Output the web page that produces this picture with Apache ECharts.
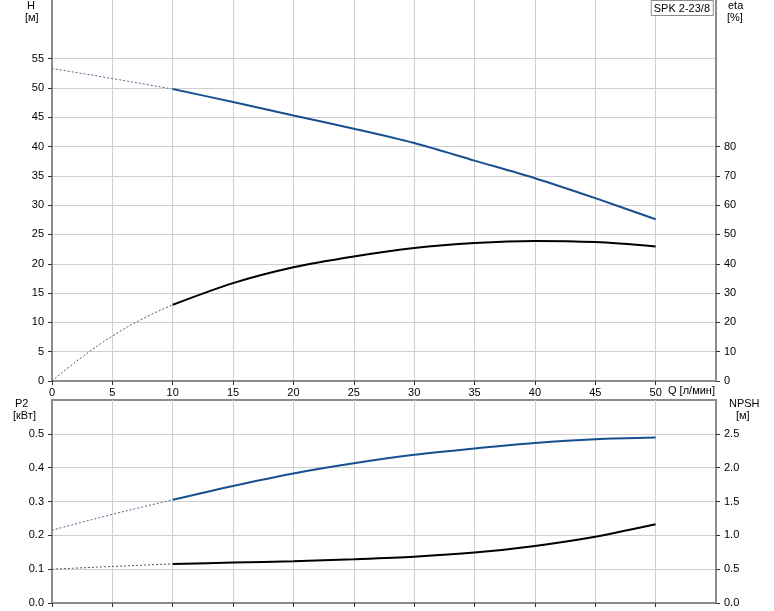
<!DOCTYPE html>
<html>
<head>
<meta charset="utf-8">
<script src="https://cdn.jsdelivr.net/npm/echarts@6/dist/echarts.min.js"></script>
<style>
html,body{margin:0;padding:0;background:#fff;}
#c{width:774px;height:611px;}
</style>
</head>
<body>
<div id="c"></div>
<script>
// ---- data ----
const qDash = [0, 5, 10];
const qMain = [10, 15, 20, 25, 30, 35, 40, 45, 50];
const qEtaDash = [0, 2.5, 5, 7.5, 10];
const hDash = [53.3, 51.6, 49.8];
const hMain = [49.8, 47.6, 45.3, 43.05, 40.6, 37.6, 34.6, 31.2, 27.6];
const etaDash = [0, 8.2, 15.3, 21.2, 26.0];
const etaMain = [26.0, 33.4, 38.8, 42.5, 45.4, 47.1, 47.8, 47.4, 45.9];
const p2Dash = [0.215, 0.262, 0.305];
const p2Main = [0.305, 0.346, 0.383, 0.413, 0.438, 0.457, 0.473, 0.484, 0.489];
const npshDash = [0.5, 0.54, 0.578];
const npshMain = [0.578, 0.597, 0.618, 0.647, 0.684, 0.745, 0.844, 0.98, 1.164];
const qTicks = [0, 5, 10, 15, 20, 25, 30, 35, 40, 45, 50];
const hTicks = [0, 5, 10, 15, 20, 25, 30, 35, 40, 45, 50, 55];
const etaTicks = [0, 10, 20, 30, 40, 50, 60, 70, 80];
const p2Ticks = [0, 0.1, 0.2, 0.3, 0.4, 0.5];
const npshTicks = [0, 0.5, 1.0, 1.5, 2.0, 2.5];

const pairs = (xs, ys) => xs.map((x, i) => [x, ys[i]]);

const FONT = '"Liberation Sans", Arial, sans-serif';
const AX = '#8c8c8c';
const GRID = '#cfcfcf';
const BLUE = '#17508f';
const lbl = {fontSize: 11, color: '#000', fontFamily: FONT};

function xAx(gi, showLabel) {
  return {
    type: 'value', gridIndex: gi, min: 0, max: 55, interval: 5,
    axisLine: {show: true, onZero: false, lineStyle: {color: AX, width: 2}},
    axisTick: {show: true, length: 4, customValues: qTicks, lineStyle: {color: '#333'}},
    axisLabel: Object.assign({show: showLabel, customValues: qTicks, margin: 6}, lbl),
    splitLine: {show: true, lineStyle: {color: GRID, width: 1}}
  };
}
function yAx(gi, pos, max, interval, ticks, grid, dec) {
  return {
    type: 'value', gridIndex: gi, position: pos, min: 0, max: max, interval: interval,
    axisLine: {show: true, onZero: false, lineStyle: {color: AX, width: 2}},
    axisTick: {show: true, length: 4, customValues: ticks, lineStyle: {color: '#333'}},
    axisLabel: Object.assign({customValues: ticks, margin: 8,
      formatter: v => dec ? v.toFixed(dec) : String(v)}, lbl),
    splitLine: {show: grid, lineStyle: {color: GRID, width: 1}}
  };
}
function dashed(name, xi, yi, data, color) {
  return {name, type: 'line', xAxisIndex: xi, yAxisIndex: yi, data, smooth: 0.5,
    symbol: 'none', lineStyle: {color, width: 1, type: [2, 2]}, z: 3};
}
function solid(name, xi, yi, data, color) {
  return {name, type: 'line', xAxisIndex: xi, yAxisIndex: yi, data, smooth: 0.3,
    symbol: 'none', lineStyle: {color, width: 2}, z: 4};
}

const chart = echarts.init(document.getElementById('c'), null, {renderer: 'canvas'});
chart.setOption({
  animation: false,
  backgroundColor: '#fff',
  title: {
    text: 'SPK 2-23/8', right: 61, top: 0,
    borderColor: '#8c8c8c', borderWidth: 1, padding: [3, 3, 2, 3],
    backgroundColor: '#fff',
    textStyle: {fontSize: 11, fontWeight: 'normal', color: '#000', fontFamily: FONT}
  },
  grid: [
    {left: 52, width: 664, top: 0, height: 381},
    {left: 52, width: 664, top: 400, height: 203, show: true, borderColor: AX, borderWidth: 2, backgroundColor: 'transparent'}
  ],
  xAxis: [xAx(0, true), xAx(1, false)],
  yAxis: [
    yAx(0, 'left', 65, 5, hTicks, true, 0),
    yAx(0, 'right', 130, 10, etaTicks, false, 0),
    yAx(1, 'left', 0.6, 0.1, p2Ticks, true, 1),
    yAx(1, 'right', 3, 0.5, npshTicks, false, 1)
  ],
  series: [
    dashed('H ext', 0, 0, pairs(qDash, hDash), '#4a6690'),
    solid('H', 0, 0, pairs(qMain, hMain), BLUE),
    dashed('eta ext', 0, 1, pairs(qEtaDash, etaDash), '#555'),
    solid('eta', 0, 1, pairs(qMain, etaMain), '#000'),
    dashed('P2 ext', 1, 2, pairs(qDash, p2Dash), '#4a6690'),
    solid('P2', 1, 2, pairs(qMain, p2Main), BLUE),
    dashed('NPSH ext', 1, 3, pairs(qDash, npshDash), '#555'),
    solid('NPSH', 1, 3, pairs(qMain, npshMain), '#000')
  ],
  graphic: [
    {type: 'text', left: 27, top: 0, style: {text: 'H', font: '11px ' + FONT, fill: '#000'}},
    {type: 'text', left: 25, top: 12, style: {text: '[м]', font: '11px ' + FONT, fill: '#000'}},
    {type: 'text', left: 728, top: 0, style: {text: 'eta', font: '11px ' + FONT, fill: '#000'}},
    {type: 'text', left: 727, top: 12, style: {text: '[%]', font: '11px ' + FONT, fill: '#000'}},
    {type: 'text', left: 668, top: 385, style: {text: 'Q [л/мин]', font: '11px ' + FONT, fill: '#000'}},
    {type: 'text', left: 15, top: 398, style: {text: 'P2', font: '11px ' + FONT, fill: '#000'}},
    {type: 'text', left: 13, top: 410, style: {text: '[кВт]', font: '11px ' + FONT, fill: '#000'}},
    {type: 'text', left: 729, top: 398, style: {text: 'NPSH', font: '11px ' + FONT, fill: '#000'}},
    {type: 'text', left: 736, top: 410, style: {text: '[м]', font: '11px ' + FONT, fill: '#000'}}
  ]
});
</script>
</body>
</html>
